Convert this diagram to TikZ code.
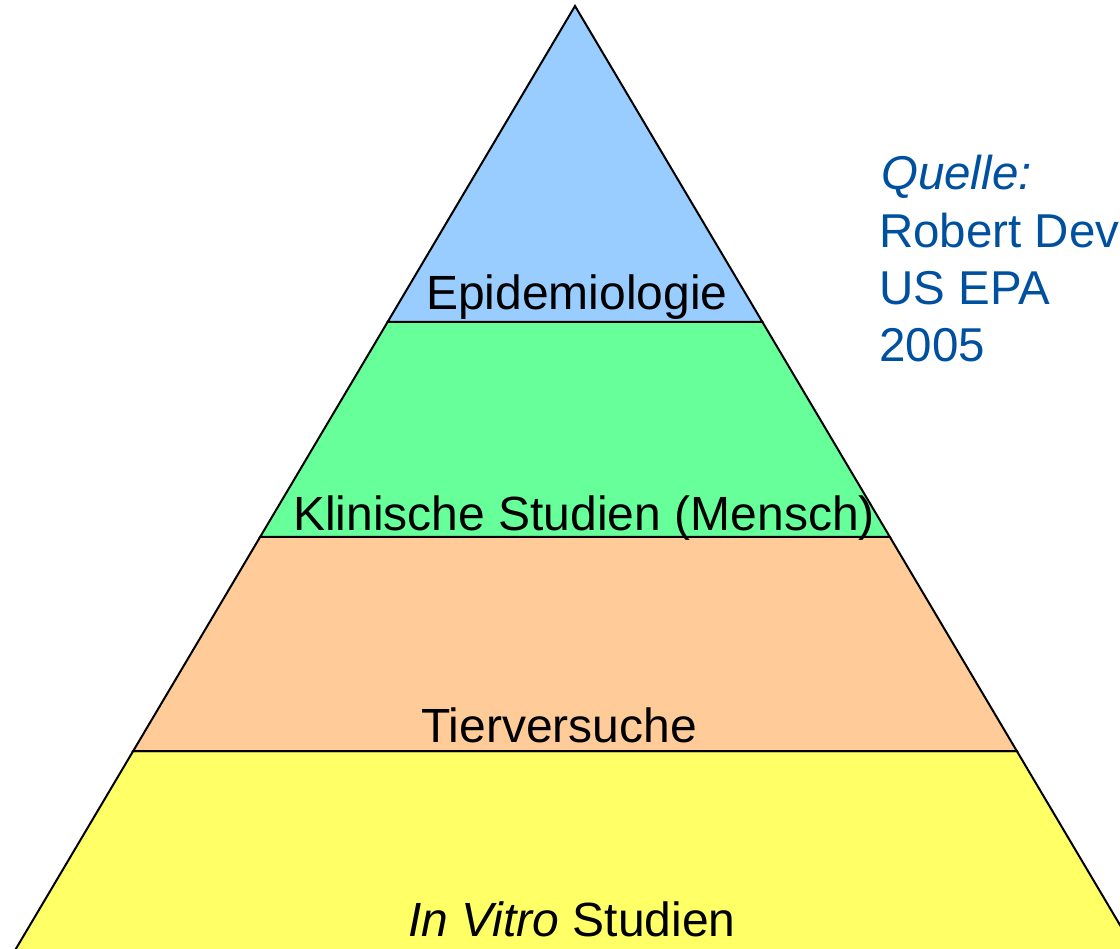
\documentclass[tikz,border=0pt]{standalone}
\usepackage{fontspec}
\setmainfont{Liberation Sans}
\definecolor{epiblue}{HTML}{99CCFF}
\definecolor{klingreen}{HTML}{66FF99}
\definecolor{tierorange}{HTML}{FFCC99}
\definecolor{vitroyellow}{HTML}{FFFF66}
\definecolor{srcblue}{RGB}{0,80,160}
\begin{document}
\begin{tikzpicture}[x=1pt,y=-1pt,
  layer/.style={draw=black,line width=2pt,line join=miter},
  lbl/.style={font=\fontsize{48}{57}\selectfont,inner sep=0pt,anchor=base},
  src/.style={font=\fontsize{47.5}{57}\selectfont,inner sep=0pt,anchor=base west,text=srcblue}]
\useasboundingbox (0,0) rectangle (1120,949);
\clip (0,0) rectangle (1120,949);
% layers
\coordinate (apex) at (575,6);
\coordinate (l1) at (387.6,322); \coordinate (r1) at (762.4,322);
\coordinate (l2) at (260.1,537); \coordinate (r2) at (889.9,537);
\coordinate (l3) at (133.2,751); \coordinate (r3) at (1016.8,751);
\coordinate (l4) at (6.3,965);   \coordinate (r4) at (1143.7,965);
\draw[layer,fill=vitroyellow] (l3) -- (r3) -- (r4) -- (l4) -- cycle;
\draw[layer,fill=tierorange] (l2) -- (r2) -- (r3) -- (l3) -- cycle;
\draw[layer,fill=klingreen] (l1) -- (r1) -- (r2) -- (l2) -- cycle;
\draw[layer,fill=epiblue] (apex) -- (r1) -- (l1) -- cycle;
% labels
\node[lbl] (epi) at (577,310) {Epidemiologie};
\node[lbl] (klin) at (584,530) {Klinische Studien (Mensch)};
\node[lbl] (tier) at (559,742) {Tierversuche};
\node[lbl] (vitro) at (572,936) {\textit{In Vitro} Studien};
% source
\node[src] (q1) at (881,190) {\textit{Quelle:}};
\node[src] (q2) at (879,248) {Robert Dev};
\node[src] (q3) at (879,305) {US EPA};
\node[src] (q4) at (879,362) {2005};
\end{tikzpicture}
\end{document}
